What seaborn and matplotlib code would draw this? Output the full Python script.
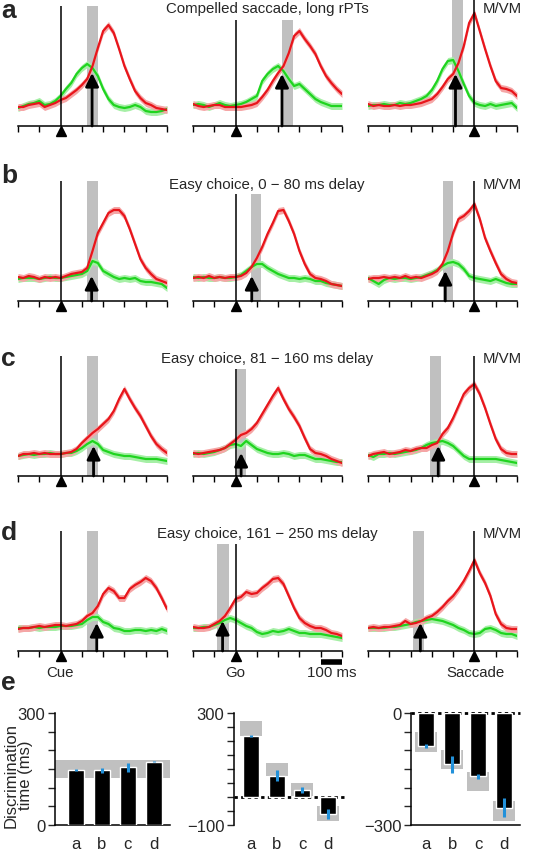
import numpy as np
import matplotlib
matplotlib.use('Agg')
import matplotlib.pyplot as plt
import seaborn as sns

sns.set_style('white')
plt.rcParams['font.family'] = ['Liberation Sans', 'DejaVu Sans']

# time grids (ms) for the three alignments
TIME_CUE = list(range(-200, 501, 25))
TIME_GO = list(range(-200, 501, 25))
TIME_SAC = list(range(-500, 201, 25))

# activity traces (arbitrary units), red = target in RF, green = distracter in RF
a_cue_red = [19, 19, 21, 22, 23, 19, 21, 23, 26, 28, 32, 36, 41, 47, 60, 78, 95, 101, 93, 77, 60, 47, 35, 28, 23, 21, 18, 17, 16]
a_cue_green = [18, 20, 22, 23, 25, 21, 22, 25, 30, 37, 43, 52, 58, 62, 58, 50, 37, 27, 21, 19, 18, 19, 21, 19, 15, 14, 14, 15, 17]
a_go_red = [22, 20, 19, 20, 21, 21, 19, 19, 19, 19, 20, 21, 23, 29, 36, 45, 53, 60, 73, 90, 95, 87, 80, 72, 60, 50, 43, 37, 32]
a_go_green = [21, 22, 21, 19, 21, 23, 21, 20, 21, 22, 24, 27, 30, 45, 52, 57, 60, 55, 47, 40, 42, 37, 32, 27, 24, 22, 20, 20, 20]
a_sac_red = [22, 20, 21, 20, 20, 21, 20, 21, 21, 22, 23, 25, 27, 32, 39, 47, 52, 63, 80, 103, 113, 95, 77, 60, 45, 38, 37, 35, 30]
a_sac_green = [20, 21, 21, 22, 21, 21, 23, 22, 23, 25, 27, 30, 36, 45, 57, 65, 66, 55, 42, 30, 23, 21, 20, 22, 20, 21, 22, 23, 18]

b_cue_red = [24, 23, 25, 24, 22, 24, 23, 24, 23, 25, 27, 28, 29, 33, 50, 68, 78, 88, 91, 91, 85, 72, 57, 42, 33, 27, 22, 20, 18]
b_cue_green = [22, 23, 23, 23, 22, 23, 24, 23, 23, 24, 25, 26, 27, 30, 40, 38, 30, 27, 24, 22, 23, 22, 23, 20, 19, 19, 18, 17, 13]
b_go_red = [23, 24, 23, 25, 23, 24, 23, 24, 24, 25, 28, 34, 43, 54, 67, 78, 90, 91, 80, 67, 50, 37, 27, 23, 22, 20, 17, 16, 15]
b_go_green = [24, 23, 24, 23, 23, 24, 23, 23, 24, 26, 30, 34, 37, 37, 33, 30, 27, 25, 23, 23, 22, 23, 22, 20, 20, 18, 17, 16, 15]
b_sac_red = [22, 23, 23, 24, 23, 24, 23, 25, 23, 24, 23, 25, 27, 30, 37, 50, 68, 82, 85, 90, 97, 82, 63, 50, 38, 27, 22, 19, 18]
b_sac_green = [23, 20, 17, 21, 23, 22, 23, 23, 22, 23, 24, 26, 28, 31, 35, 38, 39, 37, 32, 25, 23, 22, 21, 20, 22, 20, 18, 17, 17]

c_cue_red = [20, 22, 22, 23, 22, 23, 22, 22, 22, 23, 24, 27, 33, 38, 43, 47, 52, 57, 65, 77, 87, 77, 68, 60, 50, 40, 32, 27, 23]
c_cue_green = [20, 21, 22, 21, 22, 22, 23, 22, 22, 23, 23, 25, 28, 32, 35, 32, 26, 24, 22, 21, 20, 20, 19, 18, 17, 17, 17, 16, 15]
c_go_red = [23, 22, 23, 24, 25, 26, 28, 32, 36, 41, 43, 47, 53, 62, 71, 80, 88, 77, 67, 59, 50, 38, 27, 23, 22, 20, 17, 15, 13]
c_go_green = [22, 23, 22, 23, 24, 26, 28, 31, 32, 30, 35, 31, 27, 25, 23, 22, 22, 23, 22, 20, 21, 21, 19, 17, 17, 16, 15, 14, 14]
c_sac_red = [20, 22, 23, 24, 22, 23, 24, 26, 25, 27, 28, 28, 31, 33, 42, 48, 58, 70, 82, 88, 92, 82, 68, 52, 37, 27, 23, 22, 22]
c_sac_green = [21, 19, 22, 22, 23, 22, 23, 24, 25, 26, 28, 31, 33, 34, 35, 33, 30, 25, 20, 17, 17, 17, 17, 17, 17, 16, 15, 14, 13]

d_cue_red = [22, 23, 23, 24, 25, 24, 25, 26, 26, 25, 26, 27, 30, 35, 38, 45, 57, 63, 60, 53, 53, 62, 66, 69, 73, 70, 63, 53, 42]
d_cue_green = [23, 23, 23, 24, 23, 24, 24, 24, 25, 25, 25, 26, 27, 31, 34, 34, 29, 27, 23, 22, 20, 20, 21, 21, 20, 21, 20, 22, 20]
d_go_red = [24, 23, 23, 24, 27, 30, 35, 43, 52, 54, 59, 57, 58, 63, 67, 72, 73, 67, 55, 43, 33, 28, 25, 23, 23, 21, 18, 17, 15]
d_go_green = [23, 23, 24, 24, 26, 28, 31, 33, 31, 28, 25, 23, 19, 17, 18, 20, 19, 20, 22, 20, 18, 18, 17, 17, 17, 16, 15, 14, 13]
d_sac_red = [23, 24, 23, 24, 24, 25, 26, 30, 27, 28, 30, 33, 35, 39, 44, 50, 55, 62, 70, 80, 91, 78, 68, 55, 37, 27, 23, 22, 22]
d_sac_green = [23, 23, 23, 23, 24, 24, 25, 26, 27, 29, 30, 31, 32, 31, 30, 28, 26, 23, 21, 18, 17, 18, 22, 23, 21, 18, 17, 17, 15]

# discrimination times (ms) per condition a-d, for each alignment
BAR_LABELS = ['a', 'b', 'c', 'd']
cue_dt = [148, 146, 155, 170]
cue_err = [3, 8, 12, 2]
cue_band = [125, 175]
go_dt = [218, 76, 26, -61]
go_err = [3, 20, 10, 18]
go_lo = [219, 74, 5, -87]
go_hi = [270, 121, 50, -33]
sac_dt = [-89, -137, -170, -254]
sac_err = [6, 23, 6, 25]
sac_lo = [-104, -150, -208, -288]
sac_hi = [-52, -99, -158, -237]

ROW_TITLES = ['Compelled saccade, long rPTs', 'Easy choice, 0 \u2212 80 ms delay',
              'Easy choice, 81 \u2212 160 ms delay', 'Easy choice, 161 \u2212 250 ms delay']
# heights of the event line in each panel, and tips of the arrows
line_top = [[120, 106, 126], [120, 107, 120], [120, 107, 120], [120, 107, 120]]
arrow_tip = [[53, 52, 52], [25, 25, 30], [30, 23, 30], [28, 30, 28]]

RED = '#e8151b'
RED_FILL = '#f5a6a6'
GREEN = '#1fd41f'
GREEN_FILL = '#a6efa6'
GREY = '#c0c0c0'
BLUE = '#2291da'

W, H = 558, 853
fig = plt.figure(figsize=(W / 100, H / 100), dpi=100)


def fx(x):
    return x / W


def fy(y):
    return 1 - y / H


traces = [
    [(a_cue_red, a_cue_green), (a_go_red, a_go_green), (a_sac_red, a_sac_green)],
    [(b_cue_red, b_cue_green), (b_go_red, b_go_green), (b_sac_red, b_sac_green)],
    [(c_cue_red, c_cue_green), (c_go_red, c_go_green), (c_sac_red, c_sac_green)],
    [(d_cue_red, d_cue_green), (d_go_red, d_go_green), (d_sac_red, d_sac_green)],
]
times = [TIME_CUE, TIME_GO, TIME_SAC]
dts = [cue_dt, go_dt, sac_dt]
bands = [([cue_band[0]] * 4, [cue_band[1]] * 4), (go_lo, go_hi), (sac_lo, sac_hi)]

col_left = [18, 193, 368]
row_axis = [127, 302, 477, 652]
trace_axes = {}

for r in range(4):
    for c in range(3):
        ax = fig.add_axes([fx(col_left[c]), fy(row_axis[r]), 149 / W, 127 / H])
        ax.patch.set_alpha(0)
        t = np.array(times[c])
        red, green = traces[r][c]
        top = line_top[r][c]

        # grey band = discrimination time range
        lo, hi = bands[c][0][r], bands[c][1][r]
        ax.fill_between([lo, hi], 0, top, color=GREY, lw=0, zorder=1)

        for vals, col, fill in [(green, GREEN, GREEN_FILL), (red, RED, RED_FILL)]:
            v = np.array(vals, dtype=float)
            ax.fill_between(t, v - 3.5, v + 3.5, color=fill, lw=0, zorder=2)
            sns.lineplot(x=t, y=v, color=col, lw=1.6, ax=ax, zorder=3)

        ax.vlines(0, 0, top, color='k', lw=1.1, zorder=4)
        ax.annotate('', xy=(dts[c][r], arrow_tip[r][c]), xytext=(dts[c][r], 0),
                    arrowprops=dict(arrowstyle='-|>,head_length=0.8,head_width=0.4',
                                    color='k', lw=2, shrinkA=0, shrinkB=0),
                    zorder=5)
        ax.plot(0, -4.5, marker='^', ms=7, color='k', clip_on=False, zorder=6)

        ax.set_xlim(t[0], t[-1])
        ax.set_ylim(0, 127)
        ax.set_xticks(np.arange(t[0], t[-1] + 1, 100))
        ax.set_xticklabels([])
        ax.set_yticks([])
        for s in ['top', 'right', 'left']:
            ax.spines[s].set_visible(False)
        ax.spines['bottom'].set_linewidth(1.1)
        ax.spines['bottom'].set_color('k')
        ax.tick_params(axis='x', direction='out', length=4, width=1, color='k', bottom=True)
        ax.set_xlabel('')
        ax.set_ylabel('')
        trace_axes[(r, c)] = ax

# scale bar
trace_axes[(3, 1)].plot([400, 500], [-11, -11], color='k', lw=4, solid_capstyle='butt',
                        clip_on=False)

# row texts
label_base = [18, 183, 366, 540]
title_y = [9, 185, 359, 534]
for r in range(4):
    fig.text(fx(1), fy(label_base[r]), 'abcd'[r], fontsize=19, fontweight='bold', va='baseline')
    fig.text(fx(267), fy(title_y[r]), ROW_TITLES[r], fontsize=10.8, ha='center', va='center')
    fig.text(fx(522), fy(title_y[r]), 'M/VM', fontsize=10.8, ha='right', va='center')

for txt, x in [('Cue', 60), ('Go', 235), ('100 ms', 332), ('Saccade', 475)]:
    fig.text(fx(x), fy(673), txt, fontsize=10.8, ha='center', va='center')
fig.text(fx(1), fy(690), 'e', fontsize=19, fontweight='bold', va='baseline')

# bar charts
bar_specs = [
    (55, 170, cue_dt, cue_err, None, None, (0, 300), (-0.8, 3.62), ['0', '300']),
    (234, 344, go_dt, go_err, go_lo, go_hi, (-100, 300), (-0.66, 3.62), ['\u2212100', '300']),
    (411, 520, sac_dt, sac_err, sac_lo, sac_hi, (-300, 0), (-0.58, 3.6), ['\u2212300', '0']),
]
for i, (left, right, dt, err, lo, hi, ylim, xlim, ylabs) in enumerate(bar_specs):
    ax = fig.add_axes([fx(left), fy(826), (right - left) / W, 112 / H])
    ax.patch.set_alpha(0)
    pos = np.arange(4)
    if lo is None:
        ax.axhspan(cue_band[0], cue_band[1], color=GREY, lw=0, zorder=1)
    else:
        ax.bar(pos, np.array(hi) - np.array(lo), bottom=lo, width=0.85, color=GREY, lw=0, zorder=1)
    if i > 0:
        ax.axhline(0, color='k', ls=(0, (1.2, 1.2)), lw=2, zorder=2, clip_on=False)
    sns.barplot(x=BAR_LABELS, y=dt, color='black', saturation=1, width=0.62,
                errorbar=None, ax=ax, zorder=3)
    ax.vlines(pos, np.array(dt) - np.array(err), np.array(dt) + np.array(err),
              color=BLUE, lw=2.2, zorder=4)
    ax.set_ylim(*ylim)
    ax.set_xlim(*xlim)
    ticks = np.arange(ylim[0], ylim[1] + 1, 50)
    ax.set_yticks(ticks)
    ax.set_yticklabels([ylabs[0]] + [''] * (len(ticks) - 2) + [ylabs[1]], fontsize=12)
    ax.tick_params(axis='y', direction='out', length=5, width=1, left=True, pad=2)
    ax.tick_params(axis='x', length=0, pad=8, labelsize=12)
    ax.spines['top'].set_visible(False)
    ax.spines['right'].set_visible(False)
    ax.spines['left'].set_linewidth(1.1)
    ax.spines['left'].set_color('k')
    ax.spines['bottom'].set_linewidth(1.1)
    ax.spines['bottom'].set_color('k')
    if i == 1:
        ax.spines['bottom'].set_visible(False)
    ax.set_xlabel('')
    if i == 0:
        ax.set_ylabel('Discrimination\ntime (ms)', fontsize=12, linespacing=1.0)
        ax.yaxis.set_label_coords(-0.19, 0.45)
    else:
        ax.set_ylabel('')

fig.savefig('out.png', dpi=100)
